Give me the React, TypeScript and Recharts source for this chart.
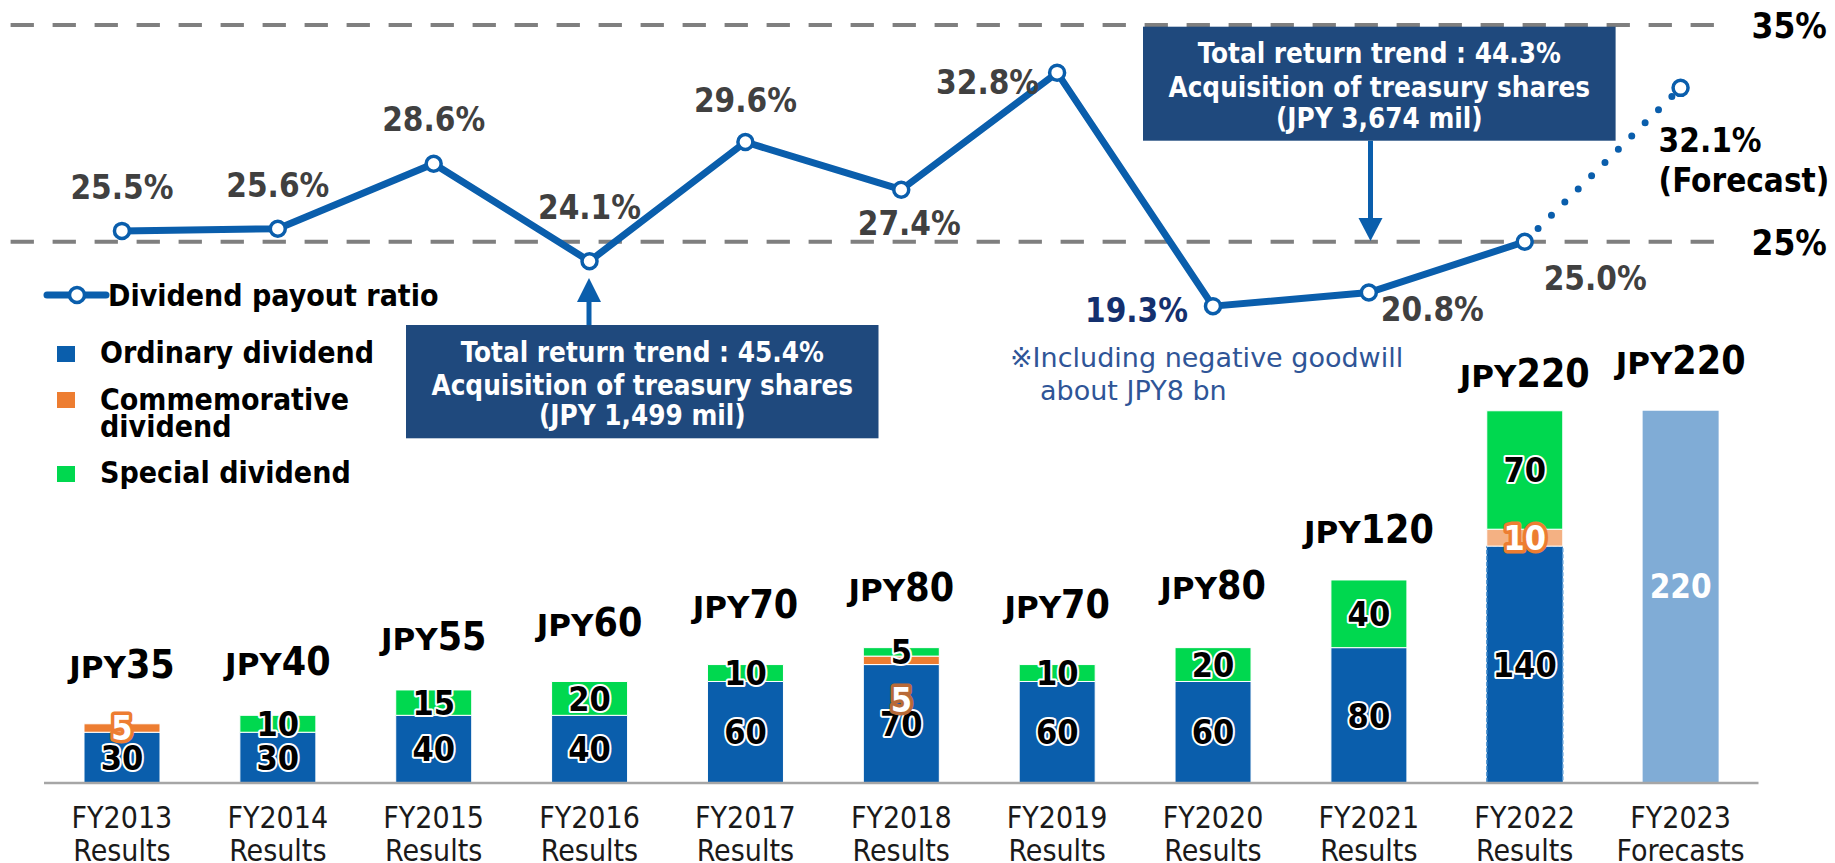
import React from 'react';
import { ComposedChart, Bar, Line, XAxis, YAxis, ReferenceLine, LabelList, Cell } from 'recharts';

// ---------------- data ----------------
const categories = ['FY2013', 'FY2014', 'FY2015', 'FY2016', 'FY2017', 'FY2018', 'FY2019', 'FY2020', 'FY2021', 'FY2022', 'FY2023'];
const periodKinds = ['Results', 'Results', 'Results', 'Results', 'Results', 'Results', 'Results', 'Results', 'Results', 'Results', 'Forecasts'];
const ordinaryDividend = [30, 30, 40, 40, 60, 70, 60, 60, 80, 140, 0];
const commemorativeDividend = [5, 0, 0, 0, 0, 5, 0, 0, 0, 10, 0];
const specialDividend = [0, 10, 15, 20, 10, 5, 10, 20, 40, 70, 0];
const forecastDividend = [0, 0, 0, 0, 0, 0, 0, 0, 0, 0, 220];
const totalDividend = [35, 40, 55, 60, 70, 80, 70, 80, 120, 220, 220];
const payoutRatioResults: (number | null)[] = [25.5, 25.6, 28.6, 24.1, 29.6, 27.4, 32.8, 19.3, 20.8, 25.0, null];
const payoutRatioForecast: (number | null)[] = [null, null, null, null, null, null, null, null, null, 25.0, 32.1];
const payoutGuideLevels = [35, 25];

// ---------------- styles ----------------
const W = 1835;
const H = 863;
const BLUE = '#0A5EAC';
const ORANGE = '#ED7D31';
const PEACH = '#F4B183';
const GREEN = '#00D84F';
const LIGHT_BLUE = '#80ACD6';
const NAVY_BOX = '#1F497D';
const GRAY_TEXT = '#404040';
const COND = "'DejaVu Sans Condensed', 'DejaVu Sans', sans-serif";
const WIDE = "'DejaVu Sans', sans-serif";

// gap (px) between the top of each bar and the baseline of its total label
const totalLabelGap = [46, 40, 40, 45, 47, 47, 47, 49, 37, 24, 37];

const rows = categories.map((category, i) => ({
  category,
  ordinary: ordinaryDividend[i],
  commemorative: commemorativeDividend[i],
  special: specialDividend[i],
  forecast: forecastDividend[i],
  payout: payoutRatioResults[i],
  payoutForecast: payoutRatioForecast[i],
}));

// which stacked series is the topmost non-empty one in each category
const stackSeries: { key: string; values: number[] }[] = [
  { key: 'ordinary', values: ordinaryDividend },
  { key: 'commemorative', values: commemorativeDividend },
  { key: 'special', values: specialDividend },
  { key: 'forecast', values: forecastDividend },
];
const topSeriesOf = categories.map((_, i) => {
  let top = '';
  stackSeries.forEach((s) => {
    if (s.values[i] > 0) top = s.key;
  });
  return top;
});

// label placement for the payout ratio (dx, baseline dy, anchor, tone)
const payoutLabelLayout = [
  { dx: 0, dy: -32, anchor: 'middle', color: GRAY_TEXT },
  { dx: 0, dy: -32, anchor: 'middle', color: GRAY_TEXT },
  { dx: 0, dy: -33, anchor: 'middle', color: GRAY_TEXT },
  { dx: 0, dy: -42, anchor: 'middle', color: GRAY_TEXT },
  { dx: 0, dy: -30, anchor: 'middle', color: GRAY_TEXT },
  { dx: 8, dy: 45, anchor: 'middle', color: GRAY_TEXT },
  { dx: -18, dy: 21, anchor: 'end', color: GRAY_TEXT },
  { dx: -25, dy: 16, anchor: 'end', color: '#14306E' },
  { dx: 12, dy: 28, anchor: 'start', color: GRAY_TEXT },
  { dx: 19, dy: 48, anchor: 'start', color: GRAY_TEXT },
  { dx: -22, dy: 64, anchor: 'start', color: '#000000' },
];

// linear axis with a compressed segment below the break (broken axis)
function makeBrokenScale(breakAt: number, factor: number): any {
  let dom: number[] = [0, 1];
  let rng: number[] = [0, 1];
  const warp = (v: number) => (v >= breakAt ? v : breakAt - (breakAt - v) * factor);
  const unwarp = (w: number) => (w >= breakAt ? w : breakAt - (breakAt - w) / factor);
  const scale: any = (v: any) => {
    if (v === null || v === undefined) return undefined;
    const n = Number(v);
    if (Number.isNaN(n)) return undefined;
    const a = warp(dom[0]);
    const b = warp(dom[dom.length - 1]);
    const r0 = rng[0];
    const r1 = rng[rng.length - 1];
    return r0 + ((warp(n) - a) / (b - a)) * (r1 - r0);
  };
  scale.domain = (d?: any) => {
    if (d === undefined) return dom.slice();
    dom = Array.from(d as ArrayLike<any>, (x) => Number(x));
    return scale;
  };
  scale.range = (r?: any) => {
    if (r === undefined) return rng.slice();
    rng = Array.from(r as ArrayLike<any>, (x) => Number(x));
    return scale;
  };
  scale.rangeRound = (r: any) => scale.range(r);
  scale.copy = () => makeBrokenScale(breakAt, factor).domain(dom).range(rng);
  scale.invert = (px: number) => {
    const a = warp(dom[0]);
    const b = warp(dom[dom.length - 1]);
    const r0 = rng[0];
    const r1 = rng[rng.length - 1];
    return unwarp(a + ((px - r0) / (r1 - r0)) * (b - a));
  };
  scale.ticks = (count = 5) => {
    const lo = dom[0];
    const hi = dom[dom.length - 1];
    const n = Math.max(1, count - 1);
    const out: number[] = [];
    for (let k = 0; k <= n; k += 1) out.push(lo + ((hi - lo) * k) / n);
    return out;
  };
  scale.tickFormat = () => (v: number) => String(v);
  scale.nice = () => scale;
  scale.clamp = () => scale;
  scale.unknown = () => scale;
  return scale;
}

const ratioScale = makeBrokenScale(24, 0.42);

// label lists receive the row index as their value
const rowIndexOf = (d: any) => categories.indexOf(d && d.category);

// ---------------- label renderers ----------------
const boxOf = (props: any) => {
  const vb = props.viewBox || {};
  return {
    x: Number(vb.x ?? props.x ?? 0),
    y: Number(vb.y ?? props.y ?? 0),
    width: Number(vb.width ?? props.width ?? 0),
    height: Number(vb.height ?? props.height ?? 0),
  };
};

const SegText = ({ x, y, text, fill = '#000', halo = '#fff', size = 34, haloWidth = 4 }: any) => (
  <text
    x={x}
    y={y + size * 0.36}
    textAnchor="middle"
    fontFamily={COND}
    fontStretch="condensed"
    fontWeight="bold"
    fontSize={size}
    fill={fill}
    stroke={halo}
    strokeWidth={haloWidth}
    strokeLinejoin="round"
    paintOrder="stroke"
  >
    {text}
  </text>
);

const TotalText = ({ x, y, i }: any) => (
  <text x={x} y={y - totalLabelGap[i]} textAnchor="middle" fontWeight="bold" fill="#000">
    <tspan fontFamily={WIDE} fontSize={31}>JPY</tspan>
    <tspan fontFamily={COND} fontStretch="condensed" fontSize={39}>{String(totalDividend[i])}</tspan>
  </text>
);

const makeSegmentLabel = (seriesKey: string, values: number[]) => (props: any) => {
  const i = Number(props.value);
  if (!(i >= 0)) return null;
  const v = values[i];
  if (!v) return null;
  const b = boxOf(props);
  const cx = b.x + b.width / 2;
  let content: any = null;
  if (seriesKey === 'commemorative') {
    const crowded = specialDividend[i] > 0 && specialDividend[i] < 10;
    const cy = b.y + b.height / 2 + (crowded ? 39 : 0);
    content = <SegText x={cx} y={cy} text={String(v)} fill="#fff" halo={crowded ? '#B86A38' : ORANGE} haloWidth={7} />;
  } else if (seriesKey === 'forecast') {
    content = (
      <text x={cx} y={b.y + b.height / 2 + 1} textAnchor="middle" fontFamily={COND} fontStretch="condensed" fontWeight="bold" fontSize={33} fill="#fff">
        {String(v)}
      </text>
    );
  } else {
    content = <SegText x={cx} y={b.y + b.height / 2} text={String(v)} />;
  }
  return (
    <g>
      {content}
      {topSeriesOf[i] === seriesKey ? <TotalText x={cx} y={b.y} i={i} /> : null}
    </g>
  );
};

const ordinaryLabel = makeSegmentLabel('ordinary', ordinaryDividend);
const commemorativeLabel = makeSegmentLabel('commemorative', commemorativeDividend);
const specialLabel = makeSegmentLabel('special', specialDividend);
const forecastLabel = makeSegmentLabel('forecast', forecastDividend);

const payoutLabel = (props: any) => {
  const i = Number(props.value);
  if (!(i >= 0)) return null;
  const v = payoutRatioResults[i];
  if (v === null || v === undefined) return null;
  const b = boxOf(props);
  const L = payoutLabelLayout[i];
  return (
    <text x={b.x + L.dx} y={b.y + L.dy} textAnchor={L.anchor as any} fontFamily={COND} fontStretch="condensed" fontWeight="bold" fontSize={33} fill={L.color}>
      {`${v.toFixed(1)}%`}
    </text>
  );
};

const payoutForecastLabel = (props: any) => {
  const i = Number(props.value);
  if (!(i >= 0)) return null;
  if (payoutRatioResults[i] !== null) return null;
  const v = payoutRatioForecast[i];
  if (v === null || v === undefined) return null;
  const b = boxOf(props);
  const L = payoutLabelLayout[i];
  return (
    <text textAnchor="start" fontFamily={COND} fontStretch="condensed" fontWeight="bold" fontSize={33} fill={L.color}>
      <tspan x={b.x + L.dx} y={b.y + L.dy}>{`${v.toFixed(1)}%`}</tspan>
      <tspan x={b.x + L.dx} y={b.y + L.dy + 40}>(Forecast)</tspan>
    </text>
  );
};

const payoutDot = (p: any) => {
  if (p.cx == null || p.cy == null || p.value == null || Number.isNaN(p.cy)) return <g key={`pd-${p.index}`} />;
  return <circle key={`pd-${p.index}`} cx={p.cx} cy={p.cy} r={7.5} fill="#fff" stroke={BLUE} strokeWidth={3.5} />;
};

const forecastDot = (p: any) => {
  if (p.cx == null || p.cy == null || p.value == null || payoutRatioResults[p.index] !== null) return <g key={`fd-${p.index}`} />;
  return <circle key={`fd-${p.index}`} cx={p.cx} cy={p.cy} r={7.5} fill="#fff" stroke={BLUE} strokeWidth={3.5} />;
};

const CategoryTick = (props: any) => {
  const { x, y, payload } = props;
  const i = categories.indexOf(payload.value);
  return (
    <g>
      <text x={x} y={y + 45} textAnchor="middle" fontFamily={COND} fontStretch="condensed" fontSize={30} fill="#1A1A1A">
        {payload.value}
      </text>
      <text x={x} y={y + 78} textAnchor="middle" fontFamily={COND} fontStretch="condensed" fontSize={30} fill="#1A1A1A">
        {periodKinds[i]}
      </text>
    </g>
  );
};

const makeGuideShape = (level: number) => (p: any) => {
  const y = Number(p.y1 ?? p.y ?? 0);
  const x1 = Number(p.x1 ?? 0);
  const x2 = Number(p.x2 ?? 0);
  return (
    <g>
      <line x1={x1 - 33.4} x2={x2 - 27.5} y1={y} y2={y} stroke="#7F7F7F" strokeWidth={4} strokeDasharray="23.3 18.7" />
      <text x={x2 - 7} y={y + 13} fontFamily={COND} fontStretch="condensed" fontWeight="bold" fontSize={35} fill="#000">
        {`${level}%`}
      </text>
    </g>
  );
};

// ---------------- annotations ----------------
const BoxText = ({ cx, y, children }: any) => (
  <text x={cx} y={y} textAnchor="middle" fontFamily={COND} fontStretch="condensed" fontWeight="bold" fontSize={27.6} fill="#fff">
    {children}
  </text>
);

const Overlay = () => (
  <svg width={W} height={H} style={{ position: 'absolute', left: 0, top: 0, pointerEvents: 'none' }}>
    {/* legend */}
    <line x1={47} x2={106} y1={295} y2={295} stroke={BLUE} strokeWidth={7} strokeLinecap="round" />
    <circle cx={77} cy={295} r={7.5} fill="#fff" stroke={BLUE} strokeWidth={3.5} />
    <g fontFamily={COND} fontStretch="condensed" fontWeight="bold" fontSize={30} fill="#000">
      <text x={108} y={306}>Dividend payout ratio</text>
      <rect x={57} y={346} width={18} height={16} fill={BLUE} />
      <text x={100} y={363}>Ordinary dividend</text>
      <rect x={57} y={392} width={18} height={16} fill={ORANGE} />
      <text x={100} y={410}>Commemorative</text>
      <text x={100} y={437}>dividend</text>
      <rect x={57} y={466} width={18} height={16} fill={GREEN} />
      <text x={100} y={483}>Special dividend</text>
    </g>

    {/* annotation 1 */}
    <line x1={589} x2={589} y1={325} y2={298} stroke={BLUE} strokeWidth={5} />
    <polygon points="577,302 601,302 589,278" fill={BLUE} />
    <rect x={406} y={325} width={472.5} height={113.3} fill={NAVY_BOX} />
    <BoxText cx={642.3} y={361.7}>Total return trend : 45.4%</BoxText>
    <BoxText cx={642.3} y={395}>Acquisition of treasury shares</BoxText>
    <BoxText cx={642.3} y={425}>(JPY 1,499 mil)</BoxText>

    {/* annotation 2 */}
    <rect x={1143} y={26.7} width={472.6} height={114} fill={NAVY_BOX} />
    <BoxText cx={1379.3} y={63.3}>Total return trend : 44.3%</BoxText>
    <BoxText cx={1379.3} y={96.7}>Acquisition of treasury shares</BoxText>
    <BoxText cx={1379.3} y={128.3}>(JPY 3,674 mil)</BoxText>
    <line x1={1370.5} x2={1370.5} y1={140.7} y2={221} stroke={BLUE} strokeWidth={5} />
    <polygon points="1358.5,218 1382.5,218 1370.5,241" fill={BLUE} />

    {/* note */}
    <g fontFamily={WIDE} fontSize={27} fill="#2F5597">
      <text x={1010} y={366.7}>※Including negative goodwill</text>
      <text x={1040} y={400}>about JPY8 bn</text>
    </g>
  </svg>
);

// ---------------- app ----------------
export default function App() {
  const margins = { top: 25, right: 76.5, left: 44 };
  return (
    <div style={{ position: 'absolute', left: 0, top: 0, width: W, height: H, background: '#fff', overflow: 'hidden' }}>
      <div style={{ position: 'absolute', left: 0, top: 0 }}>
        <ComposedChart width={W} height={H} data={rows} margin={{ ...margins, bottom: 0 }} barSize={76}>
          <XAxis
            dataKey="category"
            height={80}
            interval={0}
            tickLine={false}
            tickSize={0}
            tickMargin={0}
            axisLine={{ stroke: '#A6A6A6', strokeWidth: 2.5 }}
            tick={<CategoryTick />}
          />
          <YAxis yAxisId="jpy" hide type="number" domain={[0, 448]} allowDataOverflow />
          <Bar yAxisId="jpy" dataKey="ordinary" stackId="d" fill={BLUE} stroke="#fff" strokeWidth={1} isAnimationActive={false}>
            {rows.map((r, i) =>
              i === 9 ? <Cell key={`o-${i}`} stroke="#5B9BD5" strokeWidth={1.5} strokeDasharray="4 2" /> : <Cell key={`o-${i}`} />
            )}
            <LabelList dataKey={rowIndexOf} content={ordinaryLabel} />
          </Bar>
          <Bar yAxisId="jpy" dataKey="commemorative" stackId="d" fill={ORANGE} stroke="#fff" strokeWidth={1} isAnimationActive={false}>
            {rows.map((r, i) => (
              <Cell key={`c-${i}`} fill={i === 9 ? PEACH : ORANGE} />
            ))}
            <LabelList dataKey={rowIndexOf} content={commemorativeLabel} />
          </Bar>
          <Bar yAxisId="jpy" dataKey="special" stackId="d" fill={GREEN} stroke="#fff" strokeWidth={1} isAnimationActive={false}>
            <LabelList dataKey={rowIndexOf} content={specialLabel} />
          </Bar>
          <Bar yAxisId="jpy" dataKey="forecast" stackId="d" fill={LIGHT_BLUE} isAnimationActive={false}>
            <LabelList dataKey={rowIndexOf} content={forecastLabel} />
          </Bar>
        </ComposedChart>
      </div>

      <div style={{ position: 'absolute', left: 0, top: 0 }}>
        <ComposedChart width={W} height={H} data={rows} margin={{ ...margins, bottom: 545 }} barSize={76}>
          <XAxis dataKey="category" hide />
          <YAxis yAxisId="ratio" hide type="number" domain={[18, 35]} scale={ratioScale} allowDataOverflow />
          <YAxis yAxisId="void" hide type="number" domain={[0, 1]} />
          <Bar yAxisId="void" dataKey={() => 0} isAnimationActive={false} />
          {payoutGuideLevels.map((lv) => (
            <ReferenceLine key={`g-${lv}`} yAxisId="ratio" y={lv} ifOverflow="visible" shape={makeGuideShape(lv)} />
          ))}
          <Line
            yAxisId="ratio"
            dataKey="payoutForecast"
            stroke={BLUE}
            strokeWidth={7}
            strokeDasharray="0 18.8"
            strokeLinecap="round"
            dot={forecastDot}
            activeDot={false}
            isAnimationActive={false}
          >
            <LabelList dataKey={rowIndexOf} content={payoutForecastLabel} />
          </Line>
          <Line
            yAxisId="ratio"
            dataKey="payout"
            stroke={BLUE}
            strokeWidth={7}
            dot={payoutDot}
            activeDot={false}
            isAnimationActive={false}
          >
            <LabelList dataKey={rowIndexOf} content={payoutLabel} />
          </Line>
        </ComposedChart>
      </div>

      <Overlay />
    </div>
  );
}
